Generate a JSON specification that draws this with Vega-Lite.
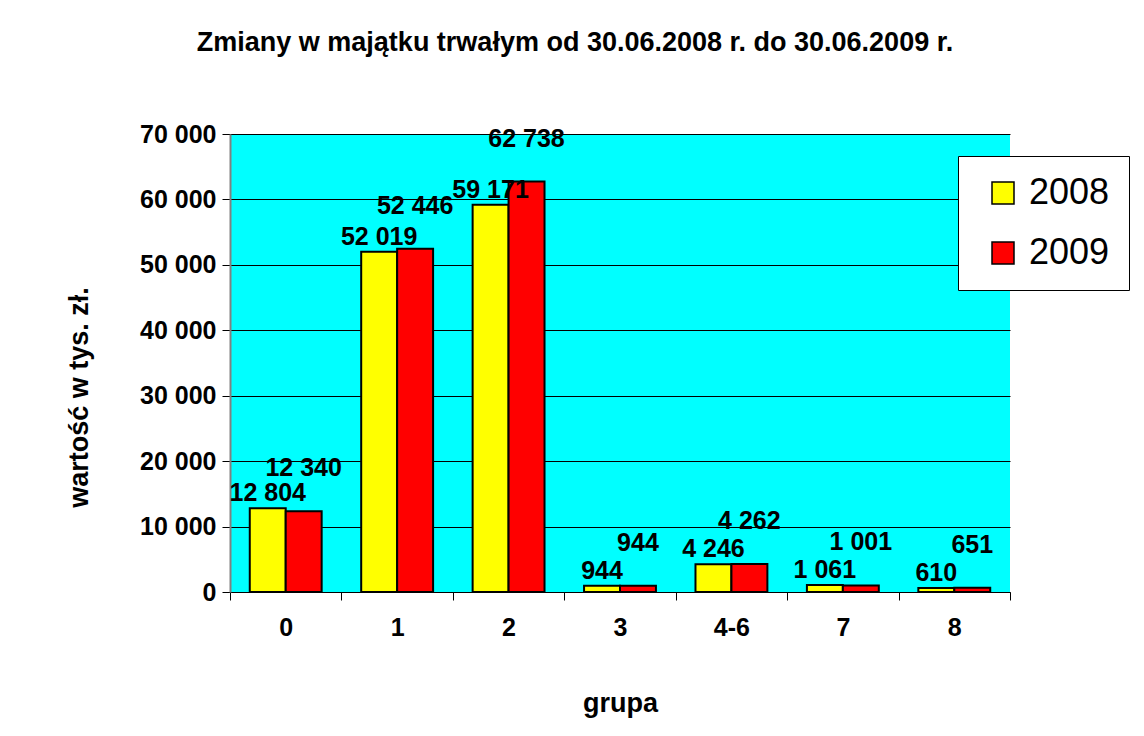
{
  "$schema": "https://vega.github.io/schema/vega-lite/v6.json",
  "width": 780,
  "height": 458,
  "autosize": {"type": "none"},
  "padding": {"left": 230, "top": 134, "right": 134, "bottom": 144},
  "background": "white",
  "title": {
    "text": "Zmiany w majątku trwałym od 30.06.2008 r. do 30.06.2009 r.",
    "font": "Liberation Sans",
    "fontSize": 27,
    "fontWeight": "bold",
    "color": "black",
    "anchor": "middle",
    "dx": -45,
    "offset": 44,
    "baseline": "alphabetic"
  },
  "data": {
    "values": [
      {"grupa": "0", "rok": "2008", "wartosc": 12804},
      {"grupa": "0", "rok": "2009", "wartosc": 12340},
      {"grupa": "1", "rok": "2008", "wartosc": 52019},
      {"grupa": "1", "rok": "2009", "wartosc": 52446},
      {"grupa": "2", "rok": "2008", "wartosc": 59171},
      {"grupa": "2", "rok": "2009", "wartosc": 62738},
      {"grupa": "3", "rok": "2008", "wartosc": 944},
      {"grupa": "3", "rok": "2009", "wartosc": 944},
      {"grupa": "4-6", "rok": "2008", "wartosc": 4246},
      {"grupa": "4-6", "rok": "2009", "wartosc": 4262},
      {"grupa": "7", "rok": "2008", "wartosc": 1061},
      {"grupa": "7", "rok": "2009", "wartosc": 1001},
      {"grupa": "8", "rok": "2008", "wartosc": 610},
      {"grupa": "8", "rok": "2009", "wartosc": 651}
    ]
  },
  "encoding": {
    "x": {
      "field": "grupa",
      "type": "nominal",
      "sort": ["0", "1", "2", "3", "4-6", "7", "8"],
      "scale": {"paddingInner": 0, "paddingOuter": 0},
      "axis": {
        "title": "grupa",
        "titleFont": "Liberation Sans",
        "titleFontSize": 27,
        "titleFontWeight": "bold",
        "titleColor": "black",
        "titlePadding": 50,
        "labelFont": "Liberation Sans",
        "labelFontSize": 25,
        "labelFontWeight": "bold",
        "labelColor": "black",
        "labelAngle": 0,
        "labelPadding": 15,
        "tickBand": "extent",
        "tickSize": 8,
        "tickColor": "black",
        "domainColor": "black",
        "domainWidth": 1,
        "grid": false
      }
    },
    "xOffset": {
      "field": "rok",
      "type": "nominal",
      "sort": ["2008", "2009"],
      "scale": {"paddingInner": 0, "paddingOuter": 0.55}
    },
    "y": {
      "field": "wartosc",
      "type": "quantitative",
      "scale": {"domain": [0, 70000], "nice": false},
      "axis": {
        "title": "wartość w tys. zł.",
        "titleFont": "Liberation Sans",
        "titleFontSize": 27,
        "titleFontWeight": "bold",
        "titleColor": "black",
        "titlePadding": 46,
        "titleY": 263,
        "values": [0, 10000, 20000, 30000, 40000, 50000, 60000, 70000],
        "format": ",d",
        "labelFont": "Liberation Sans",
        "labelFontSize": 25,
        "labelFontWeight": "bold",
        "labelColor": "black",
        "labelPadding": 6,
        "tickSize": 8,
        "tickColor": "black",
        "domainColor": "#808080",
        "domainWidth": 2,
        "grid": true,
        "gridColor": "black",
        "gridWidth": 1
      }
    }
  },
  "layer": [
    {
      "mark": {"type": "bar", "stroke": "black", "strokeWidth": 2},
      "encoding": {
        "color": {
          "field": "rok",
          "type": "nominal",
          "scale": {"domain": ["2008", "2009"], "range": ["#FFFF00", "#FF0000"]},
          "legend": {
            "title": null,
            "orient": "none",
            "legendX": 728,
            "legendY": 22,
            "symbolType": "square",
            "symbolSize": 484,
            "symbolStrokeColor": "black",
            "symbolStrokeWidth": 1.5,
            "symbolOffset": 8,
            "labelFont": "Liberation Sans",
            "labelFontSize": 36,
            "labelColor": "black",
            "labelOffset": 8,
            "rowPadding": 24,
            "padding": 19,
            "strokeColor": "black",
            "fillColor": "white"
          }
        }
      }
    },
    {
      "transform": [{"filter": "datum.rok == '2008'"}],
      "mark": {"type": "text", "baseline": "alphabetic", "dy": -7, "font": "Liberation Sans", "fontSize": 25, "fontWeight": "bold", "color": "black"},
      "encoding": {"text": {"field": "wartosc", "type": "quantitative", "format": ",d"}}
    },
    {
      "transform": [{"filter": "datum.rok == '2009'"}],
      "mark": {"type": "text", "baseline": "alphabetic", "dy": -35, "font": "Liberation Sans", "fontSize": 25, "fontWeight": "bold", "color": "black"},
      "encoding": {"text": {"field": "wartosc", "type": "quantitative", "format": ",d"}}
    }
  ],
  "config": {
    "view": {"fill": "#00FFFF", "stroke": null},
    "locale": {
      "number": {"decimal": ",", "thousands": " ", "grouping": [3], "currency": ["", " zł"]}
    }
  }
}
